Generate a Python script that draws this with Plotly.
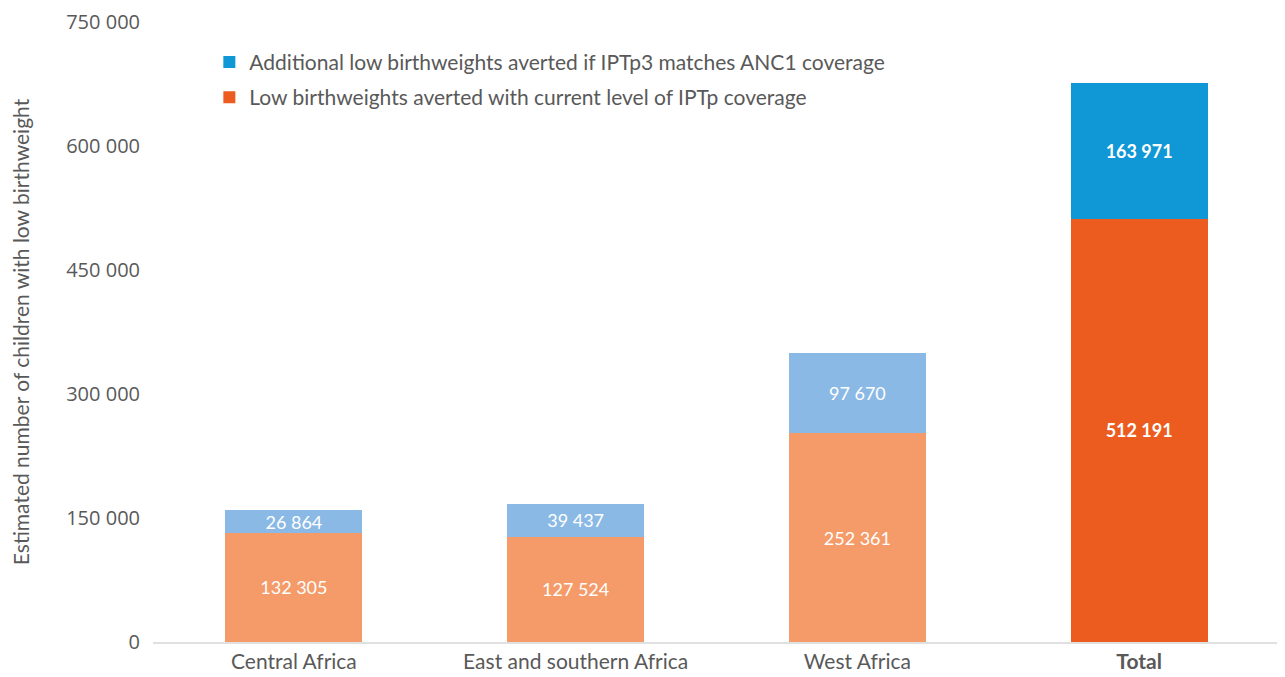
import plotly.graph_objects as go

# Low birthweights averted, by region
regions = ["Central Africa", "East and southern Africa", "West Africa"]
current_cov = [132305, 127524, 252361]
additional = [26864, 39437, 97670]
total_current = 512191
total_additional = 163971

tick_vals = [0, 150000, 300000, 450000, 600000, 750000]
tick_text = ["0", "150 000", "300 000", "450 000", "600 000", "750 000"]

FONT = "Lato"
GREY = "#595959"


def fmt(v):
    return f"{v:,}".replace(",", " ")


fig = go.Figure()

# lower segments (current coverage)
fig.add_trace(go.Bar(
    x=regions, y=current_cov, showlegend=False,
    marker=dict(color="#F59B6A", line_width=0),
    text=[fmt(v) for v in current_cov], textposition="inside",
    insidetextanchor="middle", constraintext="none",
    textfont=dict(color="white", size=18, family=FONT),
    hoverinfo="skip",
))
fig.add_trace(go.Bar(
    x=["Total"], y=[total_current], legendgroup="cur", legendrank=2,
    name="Low birthweights averted with current level of IPTp coverage",
    marker=dict(color="#EB5C1E", line_width=0),
    text=["<b>" + fmt(total_current) + "</b>"], textposition="inside",
    insidetextanchor="middle", constraintext="none",
    textfont=dict(color="white", size=18, family=FONT),
    hoverinfo="skip",
))
# upper segments (additional if IPTp3 matches ANC1)
fig.add_trace(go.Bar(
    x=regions, y=additional, showlegend=False,
    marker=dict(color="#8AB9E5", line_width=0),
    text=[fmt(v) for v in additional], textposition="inside",
    insidetextanchor="middle", constraintext="none",
    textfont=dict(color="white", size=18, family=FONT),
    hoverinfo="skip",
))
fig.add_trace(go.Bar(
    x=["Total"], y=[total_additional], legendgroup="add", legendrank=1,
    name="Additional low birthweights averted if IPTp3 matches ANC1 coverage",
    marker=dict(color="#1097D5", line_width=0),
    text=["<b>" + fmt(total_additional) + "</b>"], textposition="inside",
    insidetextanchor="middle", constraintext="none",
    textfont=dict(color="white", size=18, family=FONT),
    hoverinfo="skip",
))

fig.update_layout(
    width=1277, height=669,
    barmode="stack", bargap=0.513,
    paper_bgcolor="white", plot_bgcolor="white",
    margin=dict(l=145, r=5, t=14, b=35),
    font=dict(family=FONT, color=GREY, size=21),
    legend=dict(
        x=0.05, y=0.968, xanchor="left", yanchor="top",
        traceorder="grouped", bgcolor="rgba(0,0,0,0)",
        font=dict(size=21, color=GREY, family=FONT),
        itemwidth=30, tracegroupgap=5,
    ),
    xaxis=dict(
        categoryorder="array", categoryarray=regions + ["Total"],
        tickvals=regions + ["Total"],
        ticktext=regions + ["<b>Total</b>"],
        showline=True, linecolor="#E0E0E0", linewidth=1.5,
        ticks="", tickfont=dict(size=21, color=GREY),
        showgrid=False, automargin=False,
    ),
    yaxis=dict(
        range=[0, 750000], tickvals=tick_vals, ticktext=tick_text,
        showgrid=False, zeroline=False, ticks="", ticklabelstandoff=12,
        ticklabeloverflow="allow", automargin=False,
        tickfont=dict(size=20, color=GREY, family="Open Sans"),
        title=dict(text="Estimated number of children with low birthweight",
                   font=dict(size=21, color=GREY, family=FONT), standoff=35),
    ),
)

fig.write_html("out.html")
